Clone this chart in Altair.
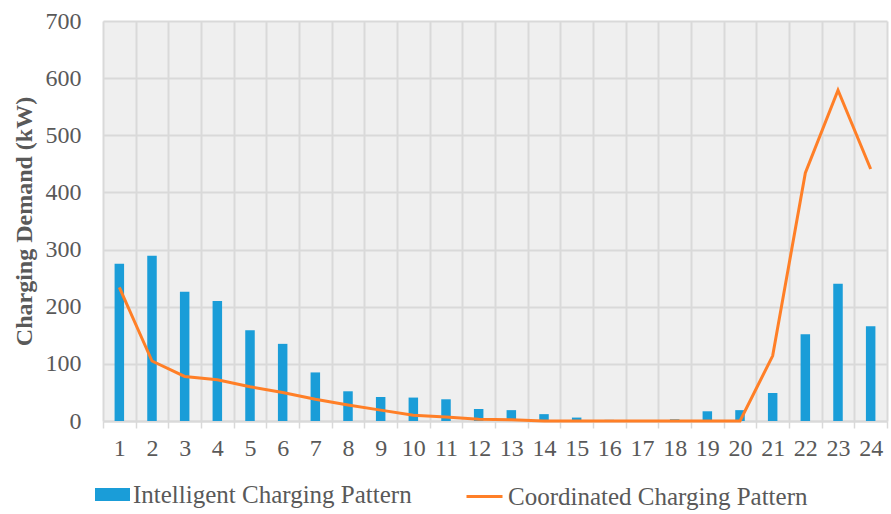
import altair as alt
import pandas as pd

hours = list(range(1, 25))
intelligent = [275, 289, 226, 210, 159, 135, 85, 52, 42, 41, 38, 21, 19, 12, 6, 2, 0, 3, 17, 19, 49, 152, 240, 166]
coordinated = [234, 105, 78, 72, 60, 50, 38, 28, 19, 10, 7, 3, 2, 0, 0, 0, 0, 0, 0, 0, 114, 434, 579, 441]

df = pd.DataFrame({
    "hour": hours,
    "intelligent": intelligent,
    "coordinated": coordinated,
    "s1": "Intelligent Charging Pattern",
    "s2": "Coordinated Charging Pattern",
})

FONT = "Liberation Serif"
GRAY = "#595959"
GRID = "#d9d9d9"
BLUE = "#1A9DD8"
ORANGE = "#FF7F27"
FS = 24
LFS = 25

x_enc = alt.X(
    "hour:O",
    scale=alt.Scale(paddingInner=0, paddingOuter=0),
    axis=alt.Axis(
        title=None, labelAngle=0, grid=True, tickBand="extent",
        gridColor=GRID, gridWidth=2, domainColor=GRID, domainWidth=2,
        tickColor=GRID, tickWidth=1.5, tickSize=7, labelPadding=8,
        labelFont=FONT, labelFontSize=FS, labelColor=GRAY,
    ),
)

y_enc = alt.Y(
    "intelligent:Q",
    scale=alt.Scale(domain=[0, 700], nice=False),
    axis=alt.Axis(
        title="Charging Demand (kW)", values=[0, 100, 200, 300, 400, 500, 600, 700],
        grid=True, gridColor=GRID, gridWidth=2, domain=False, ticks=False,
        labelPadding=22, labelFont=FONT, labelFontSize=FS, labelColor=GRAY,
        titleFont=FONT, titleFontSize=24, titleFontWeight="bold", titleColor=GRAY,
        titlePadding=9,
    ),
)

bars = alt.Chart(df).mark_bar(size=9.5).encode(
    x=x_enc,
    y=y_enc,
    fill=alt.Fill(
        "s1:N",
        scale=alt.Scale(range=[BLUE]),
        legend=alt.Legend(
            title=None, orient="none", legendX=-8, legendY=456, padding=0,
            symbolType="M-1,-0.37H1V0.37H-1Z", symbolSize=1225, symbolStrokeWidth=0,
            labelOffset=3, labelLimit=0, labelFont=FONT, labelFontSize=LFS, labelColor=GRAY,
        ),
    ),
)

line = alt.Chart(df).mark_line(strokeWidth=3).encode(
    x=alt.X("hour:O"),
    y=alt.Y("coordinated:Q"),
    stroke=alt.Stroke(
        "s2:N",
        scale=alt.Scale(range=[ORANGE]),
        legend=alt.Legend(
            title=None, orient="none", legendX=362, legendY=456, padding=0,
            symbolType="stroke", symbolSize=1296, symbolStrokeWidth=3,
            labelOffset=4, labelLimit=0, labelFont=FONT, labelFontSize=LFS, labelColor=GRAY,
        ),
    ),
)

chart = (
    alt.layer(bars, line)
    .properties(
        width=784, height=400,
        autosize=alt.AutoSizeParams(type="none"),
        padding={"left": 103, "top": 21, "right": 4, "bottom": 93},
        background="white",
    )
    .configure_view(fill="#efefef", strokeWidth=0)
    .configure_legend(labelFont=FONT, labelFontSize=LFS, labelColor=GRAY, labelLimit=0)
)

chart.save("out.html", embed_options={"renderer": "svg", "actions": False})
